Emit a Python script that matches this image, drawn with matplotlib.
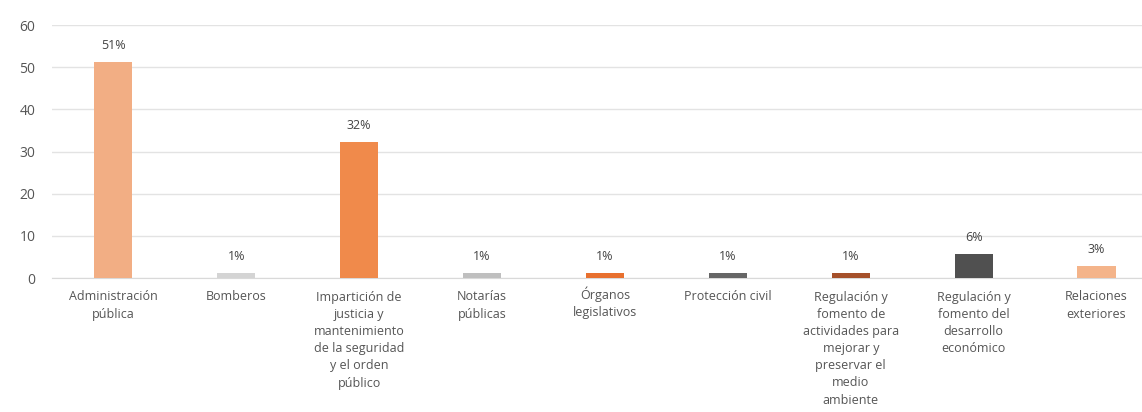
import matplotlib.pyplot as plt
from matplotlib.transforms import ScaledTranslation

# categories and values
categorias = [
    "Administración\npública",
    "Bomberos",
    "Impartición de\njusticia y\nmantenimiento\nde la seguridad\ny el orden\npúblico",
    "Notarías\npúblicas",
    "Órganos\nlegislativos",
    "Protección civil",
    "Regulación y\nfomento de\nactividades para\nmejorar y\npreservar el\nmedio\nambiente",
    "Regulación y\nfomento del\ndesarrollo\neconómico",
    "Relaciones\nexteriores",
]
valores = [51.2, 1.3, 32.3, 1.3, 1.3, 1.3, 1.3, 5.8, 2.9]
etiquetas = ["51%", "1%", "32%", "1%", "1%", "1%", "1%", "6%", "3%"]
colores = ["#F2AE84", "#D4D4D4", "#F08A4B", "#BFBFBF", "#E8702F",
           "#666666", "#A5502A", "#505050", "#F4B48A"]

plt.rcParams['font.family'] = ['Open Sans', 'DejaVu Sans']

fig = plt.figure(figsize=(11.42, 4.12), dpi=100)
ax = fig.add_axes([52 / 1142, 134 / 412, 1 - 52 / 1142, (278 - 25) / 412])

x = list(range(len(categorias)))
ax.bar(x, valores, width=0.31, color=colores, zorder=3)

# percentage labels above the bars
for xi, v, lab in zip(x, valores, etiquetas):
    ax.annotate(lab, (xi, v), xytext=(0, 7), textcoords="offset points",
                ha="center", va="bottom", fontsize=9, color="#444444")

ax.set_xlim(-0.5, 8.37)
ax.set_ylim(0, 60)
ax.set_yticks(range(0, 61, 10))
ax.set_xticks(x)
ax.set_xticklabels(categorias, fontsize=9, color="#555555", linespacing=1.42, va="top")
ax.tick_params(axis="y", length=0, pad=12, labelsize=10, labelcolor="#555555")
ax.tick_params(axis="x", length=0, pad=9)
# the accent on the Ó pushes this label down a bit, lift it back
lbl = ax.get_xticklabels()[4]
lbl.set_transform(lbl.get_transform() + ScaledTranslation(0, 3 / 72, fig.dpi_scale_trans))

ax.grid(axis="y", color="#E3E3E3", linewidth=1, zorder=0)
for s in ["left", "right", "top"]:
    ax.spines[s].set_visible(False)
ax.spines["bottom"].set_color("#D9D9D9")

fig.savefig("out.png", dpi=100)
